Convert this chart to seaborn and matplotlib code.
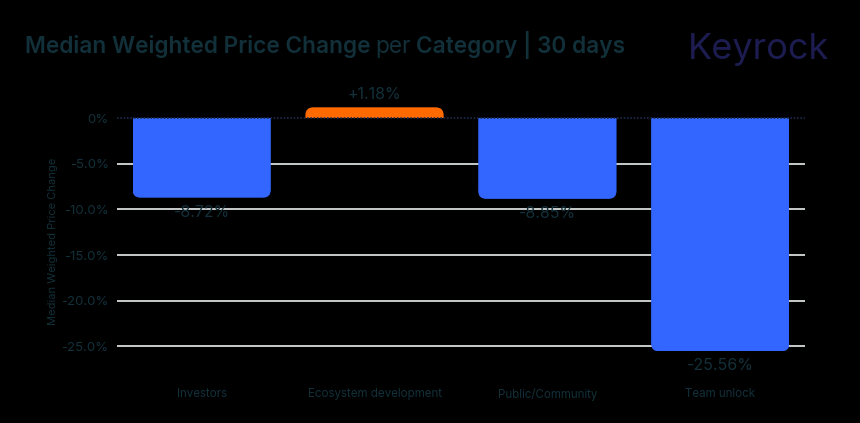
import matplotlib.pyplot as plt
import pandas as pd
import seaborn as sns
from matplotlib.patches import FancyBboxPatch
from matplotlib.ticker import FuncFormatter

# data
categories = ["Investors", "Ecosystem development", "Public/Community", "Team unlock"]
changes = [-8.72, 1.18, -8.85, -25.56]
bar_colors = ["#3366ff", "#ff6a00", "#3366ff", "#3366ff"]
yticks = [0, -5, -10, -15, -20, -25]

text_col = "#12303a"
df = pd.DataFrame({"category": categories, "change": changes})

sns.set_style("white")
plt.rcParams["font.family"] = ["Inter", "DejaVu Sans"]

fig = plt.figure(figsize=(8.6, 4.23), dpi=100, facecolor="black")
ax = fig.add_axes([0.136, 0.095, 0.80, 0.669])
ax.set_facecolor("black")

sns.barplot(data=df, x="category", y="change", hue="category",
            palette=bar_colors, legend=False, width=0.8, ax=ax,
            saturation=1, zorder=3, edgecolor="none", linewidth=0)

ax.set_ylim(-29, 2)
ax.set_xlim(-0.49, 3.49)
fig.canvas.draw()

# round the outer corners of each bar (clip with a rounded box)
inv = ax.transData.inverted()
p0 = inv.transform((0, 0))
p1 = inv.transform((1, 1))
aspect = abs(p1[1] - p0[1]) / abs(p1[0] - p0[0])
r = 8 * abs(p1[0] - p0[0])
for bar in ax.patches:
    x, w = bar.get_x(), bar.get_width()
    h = bar.get_height()
    if h < 0:
        y0, hh = h, -h + 3
    else:
        y0, hh = -3, h + 3
    clip = FancyBboxPatch((x, y0), w, hh,
                          boxstyle=f"round,pad=0,rounding_size={r}",
                          mutation_aspect=aspect, transform=ax.transData,
                          facecolor="none", edgecolor="none")
    bar.set_clip_path(clip)

# grid and zero line
for t in yticks[1:]:
    ax.axhline(t, color="#d8dcdc", lw=1.3, zorder=1)
ax.axhline(0, color="#1c2a4a", lw=1.2, ls=(0, (1, 1)), zorder=4)

ax.set_yticks(yticks)
ax.yaxis.set_major_formatter(FuncFormatter(lambda v, _: "0%" if v == 0 else f"{v:.1f}%"))
ax.tick_params(axis="y", length=0, pad=6, labelsize=9.5, labelcolor=text_col)
ax.tick_params(axis="x", length=0, pad=4, labelsize=8.3, labelcolor=text_col)
for s in ax.spines.values():
    s.set_visible(False)
ax.set_xlabel("")
ax.set_ylabel("Median Weighted Price Change", fontsize=8, color=text_col, labelpad=2)

# value labels
for i, v in enumerate(changes):
    if v >= 0:
        ax.annotate(f"+{v:.2f}%", (i, v), xytext=(0, 4), textcoords="offset points",
                    ha="center", va="bottom", fontsize=11.5, color=text_col)
    else:
        ax.annotate(f"{v:.2f}%", (i, v), xytext=(0, -5), textcoords="offset points",
                    ha="center", va="top", fontsize=11.5, color=text_col)

# title pieces and brand
ty = 1 - 53 / 423
t1 = fig.text(0.029, ty, "Median Weighted Price Change", fontsize=16.3,
              fontweight="semibold", color=text_col, va="baseline")
fig.canvas.draw()
bb = t1.get_window_extent()
x2 = (bb.x1 + 5) / fig.bbox.width
t2 = fig.text(x2, ty, "per", fontsize=16.3, color=text_col, va="baseline")
fig.canvas.draw()
bb = t2.get_window_extent()
x3 = (bb.x1 + 5) / fig.bbox.width
fig.text(x3, ty, "Category | 30 days", fontsize=16.3, fontweight="semibold",
         color=text_col, va="baseline")
fig.text(688 / 860, 1 - 59 / 423, "Keyrock", fontsize=26, color="#1c1c50",
         va="baseline")

fig.savefig("out.png", dpi=100, facecolor="black")
